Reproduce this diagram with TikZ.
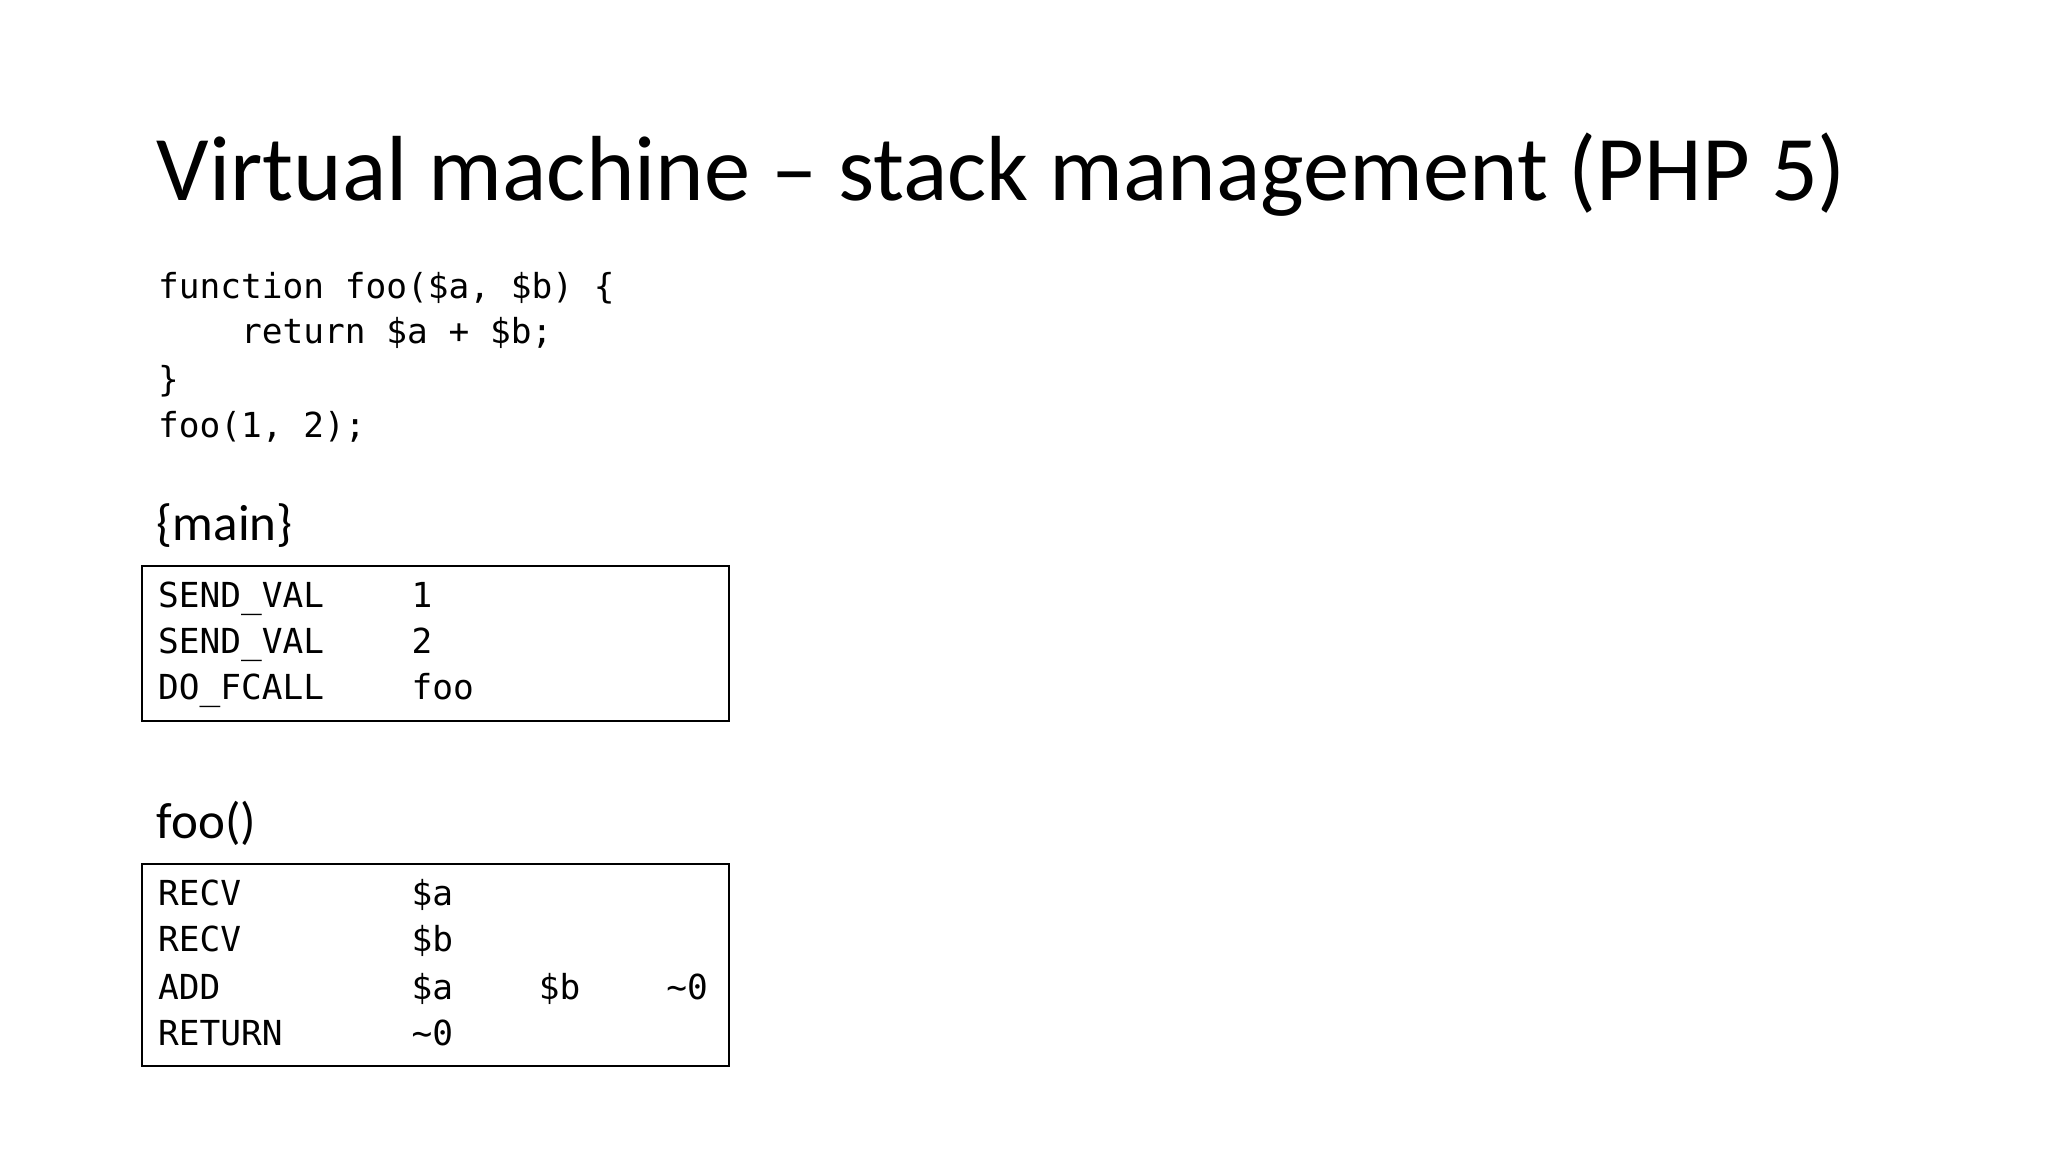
\documentclass[tikz,border=0pt]{standalone}
\usepackage{fontspec}
\setmainfont{Carlito}
\setmonofont{DejaVu Sans Mono}
\begin{document}
\begin{tikzpicture}[x=0.013128cm,y=-0.013128cm,
  code/.style={anchor=base west,inner sep=0pt,font=\ttfamily\fontsize{9.8}{12}\selectfont},
  lbl/.style={anchor=base west,inner sep=0pt,font=\fontsize{14.5}{18}\selectfont},
  box/.style={draw,line width=0.6pt}]
\useasboundingbox (0,0) rectangle (1560,877.5);
\node[anchor=base west,inner sep=0pt,font=\fontsize{26.3}{32}\selectfont] (title) at (119,153) {Virtual machine – stack management (PHP 5)};
\node[code] (c1) at (120,227) {function foo(\$a, \$b) \{};
\node[code] (c2) at (120,262) {\ \ \ \ return \$a + \$b;};
\node[code] (c3) at (120,298) {\}};
\node[code] (c4) at (120,333) {foo(1, 2);};
\node[lbl] (lmain) at (119,412) {\{main\}};
\draw[box] (108,431) rectangle (555,549);
\foreach \y/\a/\b [count=\i] in {463/SEND\_VAL/1,498/SEND\_VAL/2,533/DO\_FCALL/foo}{
  \node[code] (m\i a) at (120,\y) {\a};
  \node[code] (m\i b) at (313,\y) {\b};
}
\node[lbl] (lfoo) at (119,639) {foo()};
\draw[box] (108,658) rectangle (555,812);
\node[code] (f1a) at (120,690) {RECV};  \node[code] (f1b) at (313,690) {\$a};
\node[code] (f2a) at (120,725) {RECV};  \node[code] (f2b) at (313,725) {\$b};
\node[code] (f3a) at (120,761) {ADD};   \node[code] (f3b) at (313,761) {\$a};
\node[code] (f3c) at (410,761) {\$b};   \node[code] (f3d) at (507,761) {\textasciitilde 0};
\node[code] (f4a) at (120,796) {RETURN};\node[code] (f4b) at (313,796) {\textasciitilde 0};
\end{tikzpicture}
\end{document}
